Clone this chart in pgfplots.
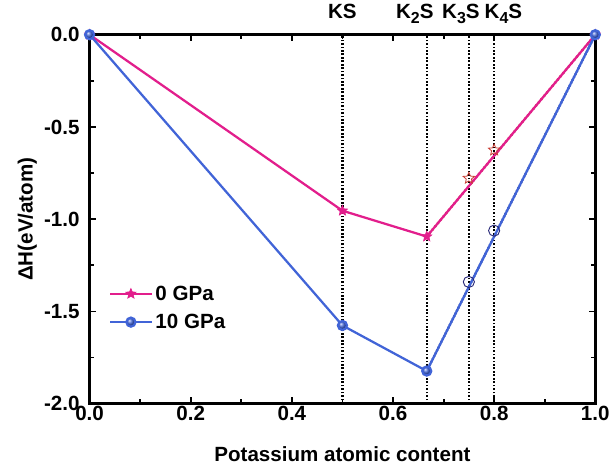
\documentclass[border=0pt]{standalone}
\usepackage{pgfplots}
\pgfplotsset{compat=1.18}
\usepackage{fontspec}
\setmainfont{Liberation Sans}
\definecolor{mag}{RGB}{226,30,140}
\definecolor{myblue}{RGB}{65,100,215}
\definecolor{openred}{RGB}{200,60,50}
\definecolor{opennavy}{RGB}{40,40,120}
\pgfdeclareplotmark{fstar}{%
  \pgfpathmoveto{\pgfqpointpolar{90}{\pgfplotmarksize}}%
  \pgfpathlineto{\pgfqpointpolar{126}{0.45\pgfplotmarksize}}%
  \pgfpathlineto{\pgfqpointpolar{162}{\pgfplotmarksize}}%
  \pgfpathlineto{\pgfqpointpolar{198}{0.45\pgfplotmarksize}}%
  \pgfpathlineto{\pgfqpointpolar{234}{\pgfplotmarksize}}%
  \pgfpathlineto{\pgfqpointpolar{270}{0.45\pgfplotmarksize}}%
  \pgfpathlineto{\pgfqpointpolar{306}{\pgfplotmarksize}}%
  \pgfpathlineto{\pgfqpointpolar{342}{0.45\pgfplotmarksize}}%
  \pgfpathlineto{\pgfqpointpolar{18}{\pgfplotmarksize}}%
  \pgfpathlineto{\pgfqpointpolar{54}{0.45\pgfplotmarksize}}%
  \pgfpathclose\pgfusepathqfillstroke}
\pgfdeclareplotmark{ostar}{%
  \pgfpathmoveto{\pgfqpointpolar{90}{\pgfplotmarksize}}%
  \pgfpathlineto{\pgfqpointpolar{126}{0.45\pgfplotmarksize}}%
  \pgfpathlineto{\pgfqpointpolar{162}{\pgfplotmarksize}}%
  \pgfpathlineto{\pgfqpointpolar{198}{0.45\pgfplotmarksize}}%
  \pgfpathlineto{\pgfqpointpolar{234}{\pgfplotmarksize}}%
  \pgfpathlineto{\pgfqpointpolar{270}{0.45\pgfplotmarksize}}%
  \pgfpathlineto{\pgfqpointpolar{306}{\pgfplotmarksize}}%
  \pgfpathlineto{\pgfqpointpolar{342}{0.45\pgfplotmarksize}}%
  \pgfpathlineto{\pgfqpointpolar{18}{\pgfplotmarksize}}%
  \pgfpathlineto{\pgfqpointpolar{54}{0.45\pgfplotmarksize}}%
  \pgfpathclose\pgfusepathqstroke}
\newcommand{\fs}{\bfseries\fontsize{15.5}{15.5}\selectfont}
\newcommand{\sub}[1]{\raisebox{-0.45ex}{\fontsize{12}{12}\selectfont #1}}
\begin{document}
\begin{tikzpicture}
\begin{axis}[
  scale only axis,
  width=381pt, height=278pt,
  xmin=0, xmax=1, ymin=-2, ymax=0,
  xtick={0,0.2,...,1.0}, ytick={-2,-1.5,...,0},
  minor x tick num=1, minor y tick num=1,
  xticklabel style={yshift=2pt, /pgf/number format/.cd,fixed,fixed zerofill,precision=1},
  yticklabel style={xshift=-4pt, /pgf/number format/.cd,fixed,fixed zerofill,precision=1},
  /pgf/number format/assume math mode=true,
  ticklabel style={font=\fs},
  tick align=inside,
  major tick length=5pt, minor tick length=3.5pt,
  every tick/.style={black, line width=1.4pt},
  axis line style={line width=2pt},
  xlabel={Potassium atomic content},
  ylabel={ΔH(eV/atom)},
  label style={font=\fs},
  xlabel style={yshift=-13pt},
  ylabel style={yshift=-1.5pt},
  clip=false,
  legend style={draw=none, fill=none, at={(0.03,0.335)}, anchor=north west, font=\fs, row sep=5pt},
  legend cell align=left,
  legend image code/.code={\draw[mark repeat=2,mark phase=2] plot coordinates {(0cm,0cm)(0.55cm,0cm)(1.1cm,0cm)};},
]
% vertical dotted lines
\addplot[black, dash pattern=on 1.3pt off 1.3pt, line width=1.7pt, forget plot] coordinates {(0.5,-2) (0.5,0)};
\addplot[black, dash pattern=on 1.3pt off 1.3pt, line width=1.7pt, forget plot] coordinates {(0.6667,-2) (0.6667,0)};
\addplot[black, dash pattern=on 1.3pt off 1.3pt, line width=1.7pt, forget plot] coordinates {(0.75,-2) (0.75,0)};
\addplot[black, dash pattern=on 1.3pt off 1.3pt, line width=1.7pt, forget plot] coordinates {(0.8,-2) (0.8,0)};
% dotted hull lines
\addplot[openred, dash pattern=on 1.2pt off 2pt, line width=1.8pt, forget plot] coordinates {(0.6667,-1.094) (1,0)};
\addplot[myblue!75!black, dash pattern=on 1.2pt off 1.2pt, line width=1.8pt, forget plot] coordinates {(0.6667,-1.823) (1,0)};
% main lines
\addplot[mag, line width=1.7pt, mark=fstar, mark options={fill=mag, draw=mag, line width=0.5pt}, mark size=4pt] coordinates {(0,0) (0.5,-0.954) (0.6667,-1.094) (1,0)};
\addlegendentry{0 GPa}
\addplot[myblue, line width=1.7pt, mark=ball, mark options={ball color=myblue}, mark size=3.4pt] coordinates {(0,0) (0.5,-1.576) (0.6667,-1.823) (1,0)};
\addlegendentry{10 GPa}
% open markers
\addplot[only marks, mark=ostar, mark size=4.5pt, draw=openred, mark options={line width=0.6pt}, forget plot] coordinates {(0.75,-0.778) (0.8,-0.625)};
\addplot[only marks, mark=o, mark size=4.2pt, draw=opennavy, mark options={line width=0.7pt}, forget plot] coordinates {(0.75,-1.34) (0.8,-1.062)};
% labels
\node[font=\fs, anchor=base] at (axis cs:0.5,0) [yshift=12pt] {KS};
\node[font=\fs, anchor=base] at (axis cs:0.6667,0) [yshift=12pt, xshift=-9pt] {K\sub{2}S};
\node[font=\fs, anchor=base] at (axis cs:0.75,0) [yshift=12pt, xshift=-6pt] {K\sub{3}S};
\node[font=\fs, anchor=base] at (axis cs:0.8,0) [yshift=12pt, xshift=7pt] {K\sub{4}S};
\end{axis}
% extend bounding box to the left as in the reference
\path (current axis.south west) ++(-67pt,0) node[inner sep=0pt]{};
\end{tikzpicture}
\end{document}
